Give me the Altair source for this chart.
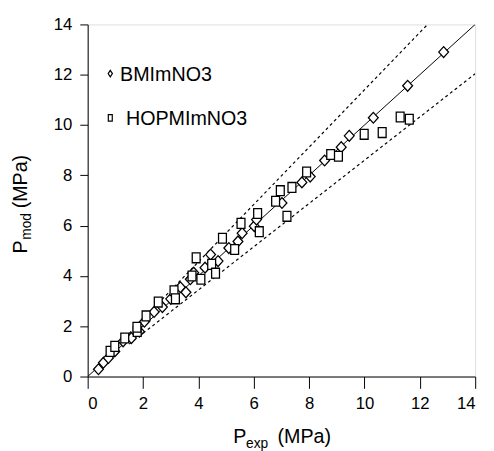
import altair as alt
import pandas as pd

# ---- data ----
bm_exp = [0.39, 0.57, 0.75, 0.98, 1.28, 1.58, 1.87, 2.05, 2.40, 2.70, 3.00, 3.35, 3.55,
          3.71, 3.83, 4.24, 4.44, 4.71, 5.10, 5.43, 5.58, 6.02, 6.10, 7.02, 7.74, 8.04,
          8.56, 9.16, 9.45, 10.32, 11.56, 12.86]
bm_mod = [0.29, 0.55, 0.74, 1.00, 1.40, 1.53, 1.79, 2.18, 2.57, 2.76, 3.09, 3.55, 3.35,
          3.87, 4.13, 4.33, 4.85, 4.59, 5.11, 5.37, 5.70, 5.98, 6.24, 6.90, 7.72, 7.95,
          8.59, 9.12, 9.57, 10.29, 11.56, 12.90]
hop_exp = [0.81, 0.98, 1.34, 1.79, 1.78, 2.11, 2.55, 3.12, 3.17, 3.77, 3.92, 4.09, 4.48,
           4.62, 4.87, 5.31, 5.54, 6.14, 6.20, 6.79, 6.96, 7.20, 7.38, 7.91, 8.78, 9.06,
           9.99, 10.64, 11.29, 11.62]
hop_mod = [1.00, 1.20, 1.53, 1.79, 1.96, 2.41, 2.96, 3.41, 3.09, 4.00, 4.72, 3.87, 4.46,
           4.11, 5.50, 5.05, 6.09, 6.48, 5.76, 6.97, 7.39, 6.37, 7.52, 8.13, 8.83, 8.76,
           9.63, 9.70, 10.32, 10.23]
series_names = ["BMImNO3", "HOPMImNO3"]

ref_x = [0, 14]
ref_y = [0, 14]
upper_x = [1.5, 12.28]
upper_y = [1.71, 14]
lower_x = [1.5, 14]
lower_y = [1.29, 12.04]

ticks = [0, 2, 4, 6, 8, 10, 12, 14]

DIAMOND = "M-1,0L0,-1.1L1,0L0,1.1Z"
SQUARE = "M-0.8,-1L0.8,-1L0.8,1L-0.8,1Z"
FONT = "Liberation Sans"

pts = pd.concat([
    pd.DataFrame({"x": bm_exp, "y": bm_mod, "s": series_names[0]}),
    pd.DataFrame({"x": hop_exp, "y": hop_mod, "s": series_names[1]}),
])

W, H = 394, 358
xs = alt.Scale(domain=[0, 14], nice=False, zero=False)
ys = alt.Scale(domain=[0, 14], nice=False, zero=False)

xaxis = alt.Axis(values=ticks, title=None, grid=False, tickSize=12, labelPadding=7,
                 labelFontSize=17, labelFont=FONT, labelColor="black",
                 domainColor="black", tickColor="black", format="d")
yaxis = alt.Axis(values=ticks, title=None, grid=False, tickSize=8, labelPadding=8,
                 labelFontSize=17, labelFont=FONT, labelColor="black",
                 domainColor="black", tickColor="black", format="d")


def line_layer(xv, yv, dash=None):
    df = pd.DataFrame({"x": xv, "y": yv})
    kw = dict(color="black", strokeWidth=1, clip=True)
    if dash:
        kw["strokeDash"] = dash
        kw["strokeWidth"] = 1.2
    return alt.Chart(df).mark_line(**kw).encode(
        x=alt.X("x:Q", scale=xs, axis=xaxis),
        y=alt.Y("y:Q", scale=ys, axis=yaxis),
    )


ref = line_layer(ref_x, ref_y)
upper = line_layer(upper_x, upper_y, [3, 3])
lower = line_layer(lower_x, lower_y, [3, 3])

points = alt.Chart(pts).mark_point(filled=False, fill="white", fillOpacity=1,
                                   stroke="black", strokeWidth=1.3, size=100,
                                   opacity=1).encode(
    x=alt.X("x:Q", scale=xs, axis=xaxis),
    y=alt.Y("y:Q", scale=ys, axis=yaxis),
    shape=alt.Shape("s:N", scale=alt.Scale(domain=series_names, range=[DIAMOND, SQUARE]),
                    legend=None),
)

one = pd.DataFrame({"a": [0]})


def txt(text, x, y, size, angle=0):
    kw = dict(text=text, font=FONT, fontSize=size, color="black", align="left",
              baseline="alphabetic")
    if angle:
        kw["angle"] = angle
    return alt.Chart(one).mark_text(**kw).encode(x=alt.value(x), y=alt.value(y))


def sym(shape, x, y):
    return alt.Chart(one).mark_point(shape=shape, filled=False, stroke="black",
                                     strokeWidth=1.2, size=45, opacity=1).encode(
        x=alt.value(x), y=alt.value(y))


legend_layers = [
    sym("M-0.65,0L0,-1L0.65,0L0,1Z", 23, 50),
    alt.Chart(one).mark_text(text=series_names[0], font=FONT, fontSize=20, color="black",
                             align="left", baseline="middle").encode(
        x=alt.value(33), y=alt.value(52)),
    sym("M-0.6,-1L0.6,-1L0.6,1L-0.6,1Z", 23, 95),
    alt.Chart(one).mark_text(text=series_names[1], font=FONT, fontSize=20, color="black",
                             align="left", baseline="middle").encode(
        x=alt.value(39), y=alt.value(96)),
]

title_layers = [
    txt("P", 148, 426, 20),
    txt("exp", 161, 431, 14),
    txt("(MPa)", 193, 426, 20),
    txt("P", -62, 233, 20, angle=270),
    txt("mod", -58, 219, 14, angle=270),
    txt("(MPa)", -62, 187, 20, angle=270),
]

chart = alt.layer(upper, lower, ref, points, *legend_layers, *title_layers).properties(
    width=W, height=H,
    autosize=alt.AutoSizeParams(type="none"),
    padding={"left": 81, "top": 13, "right": 11, "bottom": 72},
).configure_view(stroke="black", strokeWidth=1).configure(background="white")

chart.save("out.html", embed_options={"renderer": "svg", "actions": False})
